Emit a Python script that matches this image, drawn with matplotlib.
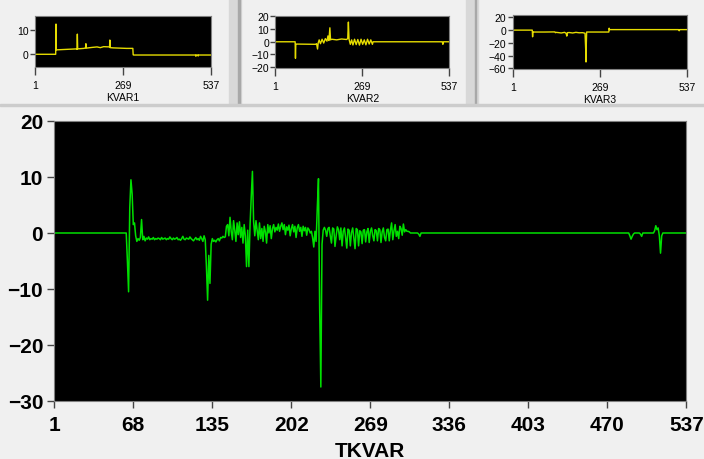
import numpy as np
import matplotlib.pyplot as plt
from matplotlib.patches import Rectangle

plt.rcParams['font.family'] = ['Liberation Sans', 'DejaVu Sans']

# ---- main trace (TKVAR), values read per sample index ----
main_flat1 = ([1, 62], [0.0, 0.0])
main_a_start = 63
main_a = [-5, -10.5, 4.5, 9.5, 7, 1.5, 1.8, -0.5, -1.5, -1.0, -1.3, -0.8, 2.4, -1.2, -0.6, -1.4,
          -0.9, -1.1, -0.7, -1.2, -1.0, -1.1, -0.8, -1.2, -1.0, -1.1, -0.9, -1.0, -1.2, -0.8,
          -1.1, -1.0, -0.9, -1.2, -1.0, -1.1, -0.7, -1.0, -1.2, -0.9, -1.1, -1.0, -0.8, -1.2,
          -1.1, -1.3, -1.0, -0.6, -1.1, -1.2, -0.9, -1.0, -1.1, -0.7, -1.0, -1.2, -1.4, -1.1,
          -0.8, -1.2, -1.0, -1.3, -0.6, -1.0, -1.5, -0.5, -1.2, -6, -12, -4, -9, -2, -1.0,
          -1.5, -1.3, -1.6, -1.2, -1.0, -1.4, -0.8, -0.9, -0.6, -0.8, -0.7, 1.2]
main_b = [1.5, -0.5, 2.8, 0.3, -1.2, 2.2, 0.5, -1.5, 1.8, -0.3, 2.0, -0.8, 1.0, -1.8, 1.5, -0.5,
          -6, 0.5, -6, 1.5, 6.5, 11, 2.0, -0.5, 2.2, 0.5, -1.2, 1.8, -1.0, 0.8, -1.5, 1.2, 0.2,
          -1.8, 1.5, 0.0, 1.3, -1.0, 0.8, 1.5, 0.2, 1.0, 0.5, 1.6, 0.3, 1.2, 1.8, 0.6, 1.5,
          -0.3, 1.1, 0.5, 1.4, -0.5, 0.8, 1.5, 0.2, 1.2, -0.8, 0.9, 1.5, 0.3, 1.0, -0.6, 1.2,
          0.4, 1.0, -0.4, 0.9, 0.6, 0.0, 0.3, -0.8, -2.5, 0.3, -1.5, 4.5, 9.7, -13.5, -27.5,
          -2, 0.5]
main_c = [1.0, 0.5, -0.6, 0.8, 1.0, -0.5, -1.8, 0.9, 0.7, -2.4, -0.5, 1.1, 0.6, -1.2, 0.9,
          -2.3, 0.3, 0.9, -0.8, -2.7, 0.7, 0.5, -2.3, 0.1, 0.9, -1.0, -2.8, 0.8, 0.6, -2.3,
          0.4, 0.2, -1.9, 0.5, 0.6, -1.6, 0.2, 0.8, -1.7, 0.3, 0.9, -0.5, -1.4, 0.6, 0.4,
          -1.4, 0.8, 0.6, -1.7, 0.2, 0.9, -0.8, -1.4, 0.6, 0.7, -1.4, 0.5, 1.8, -1.2, 0.4,
          1.5, -0.6, 0.3, -1.0, 1.2, 0.8, -0.4, 1.6, 0.2, 0.6, 0.3]
main_d = [0.3, 0.2, 0, 0, 0, 0, 0, 0, 0, -0.2, -0.6, 0]
main_flat2 = ([312, 488], [0.0, 0.0])
main_e = [-0.5, -1.1, -0.6, -0.2, 0, 0, 0, 0, 0, -0.2, -0.6, 0, 0, 0, 0, 0, 0, 0, 0, 0,
          0, 0.4, 1.3, 0.6, 0.9, -0.5, -3.6, -0.5, 0]
main_flat3 = ([517, 537], [0.0, 0.0])

# ---- small traces, breakpoints ----
k1_x = [1, 64, 65, 66, 128, 129, 130, 131, 150, 155, 156, 157, 175, 190, 200, 210, 228, 229,
        230, 240, 260, 280, 299, 300, 301, 490, 491, 492, 497, 498, 499, 537]
k1_y = [0, 0, 12.3, 1.8, 2.2, 2.0, 8.2, 2.2, 2.4, 2.6, 4.3, 2.5, 2.8, 3.0, 2.7, 3.1, 3.0, 5.8,
        2.7, 2.6, 2.5, 2.4, 2.4, -0.2, -0.3, -0.3, -0.8, -0.3, -0.3, -0.7, -0.3, -0.3]
k2_x = [1, 62, 63, 64, 65, 125, 128, 131, 133, 136, 140, 145, 150, 155, 160, 163, 166, 169,
        171, 175, 190, 205, 220, 224, 226, 228, 232, 236, 240, 245, 250, 255, 260, 265, 270,
        275, 280, 285, 290, 295, 300, 302, 515, 517, 519, 537]
k2_y = [0, 0, -13, -2, -1.8, -2, -1.5, -5.7, -1, 1.5, -1.5, 2, -1, 2.5, 0.5, 4.6, 1.0, 11.0,
        1.5, 2.0, 1.5, 2.2, 1.8, 2.5, 15.5, 2.0, -2.0, 1.5, -2.5, 2.0, -2.2, 1.8, -2.6, 2.0,
        -2.0, 1.5, -2.4, 2.0, -1.8, 1.5, -2.0, 0, 0, -2.0, 0, 0]
k3_x = [1, 61, 62, 63, 64, 65, 100, 130, 132, 134, 140, 150, 160, 165, 167, 169, 175, 185,
        195, 205, 215, 220, 223, 225, 226, 227, 228, 240, 260, 280, 296, 297, 298, 299, 510,
        512, 514, 537]
k3_y = [0, 0, -10.5, -3, -2.5, -3, -3, -2.8, -4, -3.5, -3.8, -4.5, -3.5, -5, -9.4, -4, -3.8,
        -4.5, -3.5, -4.2, -4.0, -4.5, -5, -30, -50, -20, -3, -3, -3, -3, -3, 3, 0.8, 0.8, 0.8,
        -1, 0.8, 0.8]

x_ticks = [1, 68, 135, 202, 269, 336, 403, 470, 537]

# assemble main trace
mx = list(main_flat1[0]) + list(range(main_a_start, main_a_start + len(main_a)))
my = list(main_flat1[1]) + main_a
s = mx[-1] + 1
mx += list(range(s, s + len(main_b))); my += main_b
s = mx[-1] + 1
mx += list(range(s, s + len(main_c))); my += main_c
s = mx[-1] + 1
mx += list(range(s, s + len(main_d))); my += main_d
mx += main_flat2[0]; my += main_flat2[1]
s = mx[-1] + 1
mx += list(range(s, s + len(main_e))); my += main_e
mx += main_flat3[0]; my += main_flat3[1]

bg = '#f0f0f0'
fig = plt.figure(figsize=(7.04, 4.6), dpi=100, facecolor=bg)

# panel separators
for x0, w in [(229, 12), (466, 12)]:
    fig.patches.append(Rectangle((x0 / 704, 1 - 106 / 460), w / 704, 106 / 460,
                                 transform=fig.transFigure, color='#d8d8d8', zorder=0))
    fig.patches.append(Rectangle(((x0 + w - 3) / 704, 1 - 106 / 460), 1.5 / 704, 106 / 460,
                                 transform=fig.transFigure, color='#a8a8a8', zorder=0))
fig.patches.append(Rectangle((0, 1 - 107 / 460), 1, 2 / 460, transform=fig.transFigure,
                             color='#cccccc', zorder=0))

ax = fig.add_axes([0.0771, 0.1261, 0.898, 0.6087])
ax.set_facecolor('black')
ax.plot(mx, my, color='#00e000', lw=1.1)
ax.set_xlim(1, 537)
ax.set_ylim(-30, 20)
ax.set_xticks(x_ticks)
ax.set_yticks([-30, -20, -10, 0, 10, 20])
ax.tick_params(direction='out', length=5, width=1, color='#444444', labelsize=15, pad=3)
ax.tick_params(axis='x', pad=5)
for lab in ax.get_xticklabels() + ax.get_yticklabels():
    lab.set_fontweight('bold')
ax.set_xlabel('TKVAR', fontsize=15, fontweight='bold', labelpad=5)
for sp in ax.spines.values():
    sp.set_color('#808080')

small = [
    ([0.0497, 0.8515, 0.25, 0.1122], k1_x, k1_y, (-5.3, 15.7), [0, 10], 'KVAR1'),
    ([0.3911, 0.8493, 0.2472, 0.1143], k2_x, k2_y, (-20.9, 20.5), [-20, -10, 0, 10, 20], 'KVAR2'),
    ([0.7283, 0.8478, 0.248, 0.1174], k3_x, k3_y, (-61, 23.7), [-60, -40, -20, 0, 20], 'KVAR3'),
]
for rect, xs, ys, yl, yt, name in small:
    a = fig.add_axes(rect)
    a.set_facecolor('black')
    a.plot(xs, ys, color='#e6dc00', lw=1.0)
    a.set_xlim(1, 537)
    a.set_ylim(*yl)
    a.set_xticks([1, 269, 537])
    a.set_yticks(yt)
    a.tick_params(axis='x', direction='out', length=6, width=1, color='#444444',
                  labelsize=7.5, pad=3)
    a.tick_params(axis='y', direction='out', length=3.5, width=1, color='#444444',
                  labelsize=7.5, pad=1)
    a.set_xlabel(name, fontsize=7.5, labelpad=1.5)
    for sp in a.spines.values():
        sp.set_color('#808080')

fig.savefig('out.png', dpi=100, facecolor=bg)
